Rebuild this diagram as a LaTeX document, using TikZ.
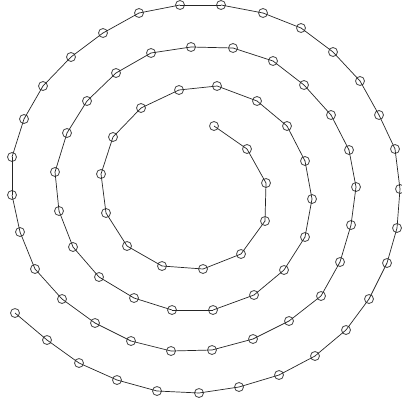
\documentclass[tikz,border=0pt]{standalone}
\usetikzlibrary{positioning}
\tikzset{
  dot/.style={circle, draw=black!70, line width=0.85pt, minimum size=9pt, inner sep=0pt},
  seg/.style={black!85, line width=0.7pt}
}
\begin{document}
\begin{tikzpicture}[x=1pt, y=-1pt]
  \useasboundingbox (0,0) rectangle (401,406);
  % points of the spiral, from the centre outwards
  \foreach \x/\y [count=\i] in {214/126, 247/149, 266/183, 265/221, 241/254, 203/269,
      162/266, 127/246, 106/213, 101/174, 113/137, 141/108, 179/90, 217/86, 257/101,
      287/126, 305/161, 312/199, 305/237, 284/270, 254/295, 213/310, 172/310, 134/298,
      99/277, 73/247, 59/211, 55/172, 67/133, 87/101, 116/73, 151/53, 191/47, 233/48,
      273/61, 304/85, 331/115, 349/150, 356/187, 351/225, 340/262, 321/296, 289/321,
      253/339, 212/350, 171/351, 131/341, 95/323, 62/299, 35/269, 20/232, 12/195,
      12/157, 24/119, 43/86, 71/57, 103/33, 139/13, 180/5, 221/5, 263/13, 301/28,
      333/52, 360/81, 379/115, 395/149, 400/189, 397/228, 387/263, 369/299, 346/330,
      315/356, 279/375, 239/387, 199/393, 157/391, 117/380, 79/363, 47/340, 15/313} {
    \node[dot] (p\i) at (\x,\y) {};
  }
  \foreach \i [remember=\i as \j (initially 1)] in {2,...,80} {
    \draw[seg] (p\j.center) -- (p\i.center);
  }
\end{tikzpicture}
\end{document}
